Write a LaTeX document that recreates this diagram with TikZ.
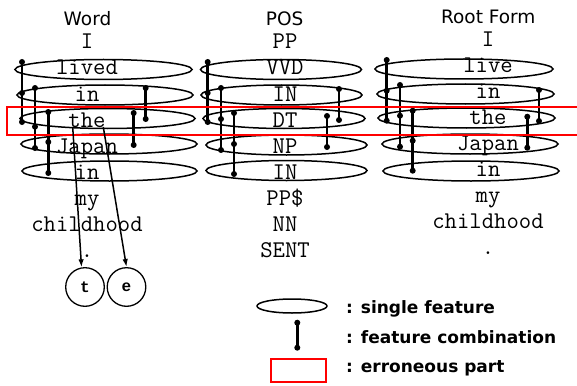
\documentclass[tikz,border=0pt]{standalone}
\usepackage{fontspec}
\setmainfont{DejaVu Sans}
\newfontfamily\monof{Liberation Mono}
\newfontfamily\titlef{DejaVu Sans}
\usetikzlibrary{shapes.geometric,arrows.meta}
\newcommand\cthree[4]{\draw[combo] (#1,#2) -- (#1,#4);
  \foreach \yy in {#2,#3,#4} \fill (#1,\yy) circle (3pt);}
\newcommand\ctwo[3]{\draw[combo] (#1,#2) -- (#1,#3);
  \foreach \yy in {#2,#3} \fill (#1,\yy) circle (3pt);}
\begin{document}
\begin{tikzpicture}[x=1pt,y=-1pt,
 fs/.style={draw,ellipse,line width=1.5pt,inner sep=0pt,minimum height=20pt},
 mono/.style={font=\ttfamily\fontsize{24}{24}\selectfont, anchor=base, inner sep=0pt},
 title/.style={font=\titlef\fontsize{18.5}{18.5}\selectfont, anchor=base, inner sep=0pt},
 legtxt/.style={font=\titlef\bfseries\fontsize{17}{17}\selectfont, anchor=base west, inner sep=0pt},
 combo/.style={line width=2.8pt},
 err/.style={draw=red, line width=2pt},
 letter/.style={draw, circle, line width=1.3pt, minimum size=38.6pt, inner sep=0pt, font=\monof\bfseries\fontsize{16}{16}\selectfont},
 pointer/.style={line width=1.5pt, -{Latex[length=8pt,width=5.5pt]}}
]
\useasboundingbox (0,0) rectangle (577,385);

% titles
\node[title] (tW) at (87.5,25.7) {Word};
\node[title] (tP) at (284.7,26) {POS};
\node[title] (tR) at (488.3,24) {Root Form};

% single-feature ellipses: Word
\node[fs, minimum width=177pt] (w1) at (103.5,69.5) {};
\node[fs, minimum width=176pt] (w2) at (105,95) {};
\node[fs, minimum width=175pt] (w3) at (107.5,118.5) {};
\node[fs, minimum width=176pt] (w4) at (109,144) {};
\node[fs, minimum width=175pt] (w5) at (109.5,171) {};
% POS
\node[fs, minimum width=161pt] (p1) at (281,69.5) {};
\node[fs, minimum width=161pt] (p2) at (281.5,95) {};
\node[fs, minimum width=162pt] (p3) at (284,118.5) {};
\node[fs, minimum width=161pt] (p4) at (286.5,145) {};
\node[fs, minimum width=161pt] (p5) at (286.5,170.5) {};
% Root
\node[fs, minimum width=178pt] (r1) at (464,69) {};
\node[fs, minimum width=177pt] (r2) at (465.5,94) {};
\node[fs, minimum width=177pt] (r3) at (466.5,118) {};
\node[fs, minimum width=176pt] (r4) at (470,144) {};
\node[fs, minimum width=176pt] (r5) at (471,171) {};

% texts
\foreach \t [count=\i from 0] in {I,lived,in,the,Japan,in,my,childhood,.}
  \node[mono] (wt\i) at (87,49+26*\i) {\t};
\foreach \t [count=\i from 0] in {PP,VVD,IN,DT,NP,IN,PP\$,NN,SENT}
  \node[mono] (pt\i) at (285,49+26*\i) {\t};
\foreach \t [count=\i from 0] in {I,live,in,the,Japan,in,my,childhood,.}
  \node[mono] (rt\i) at (488,46.5+26*\i) {\t};

% feature combinations: Word
\cthree{22}{62}{93}{122}
\cthree{35}{88}{126.7}{148}
\cthree{48.3}{112}{142}{173}
\ctwo{145.7}{88}{119}
\ctwo{133.7}{113}{145}
% POS
\cthree{207.7}{62}{93}{122}
\cthree{221}{88}{119}{150}
\cthree{234}{113}{144}{174}
\ctwo{339}{89}{120}
\ctwo{327}{116}{147}
% Root
\cthree{386.7}{60}{90.7}{120.7}
\cthree{400}{85}{115.7}{146.7}
\cthree{412.7}{110.7}{140.7}{170.7}
\ctwo{539}{90}{121}
\ctwo{527.3}{116.7}{147.7}

% erroneous part
\begin{scope}
\clip (0,0) rectangle (577,385);
\draw[err] (7,106.5) rectangle (600,134.5);
\end{scope}

% letter circles
\node[letter] (ct) at (85,287) {t};
\node[letter] (ce) at (126.5,287) {e};
\draw[pointer] ([xshift=-14.3pt]wt3.base) -- (ct.100);
\draw[pointer] ([xshift=16.3pt]wt3.base) -- (ce.north);

% legend
\node[fs, minimum width=70pt, minimum height=14pt] (legE) at (292,306) {};
\ctwo{297.3}{322.7}{347.7}
\node[err, minimum width=55pt, minimum height=23pt, inner sep=0pt] (legR) at (298.5,370) {};
\node[legtxt] (l1) at (346,313.3) {: single feature};
\node[legtxt] (l2) at (346,343.3) {: feature combination};
\node[legtxt] (l3) at (346,372.7) {: erroneous part};
\end{tikzpicture}
\end{document}
